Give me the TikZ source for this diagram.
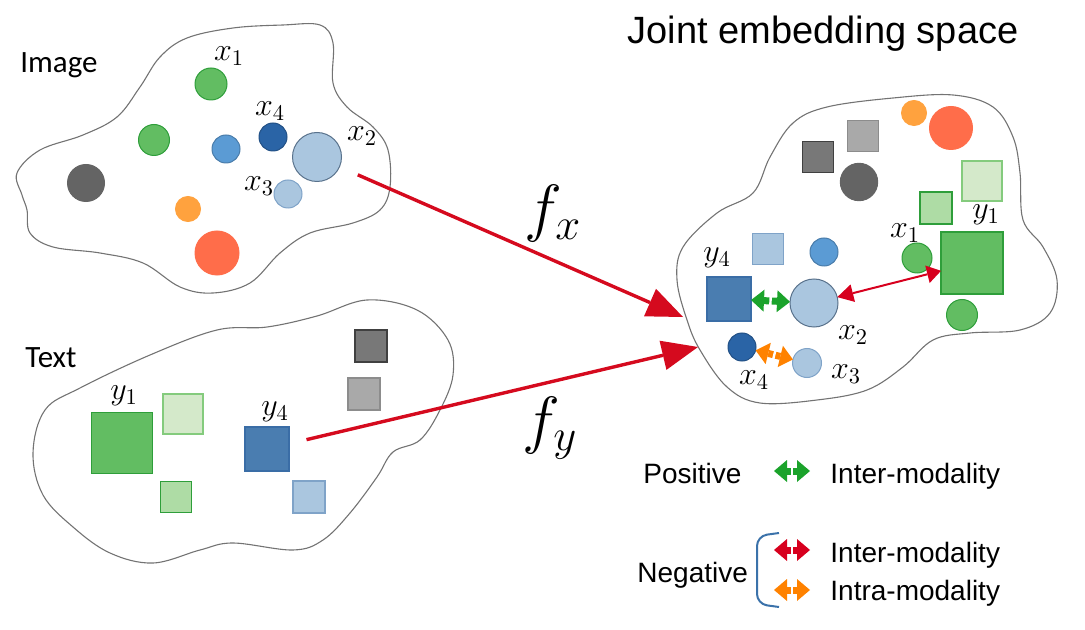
\RequirePackage{fix-cm}
\documentclass[tikz,border=0pt]{standalone}
\usepackage[no-math]{fontspec}
\setmainfont{Liberation Sans}
\newfontfamily\calfont{Carlito}
\usetikzlibrary{arrows.meta}

\definecolor{gfill}{HTML}{62BD62}
\definecolor{gline}{HTML}{2E9E3A}
\definecolor{pgfill}{HTML}{D4E9CA}
\definecolor{pgline}{HTML}{84CB7D}
\definecolor{mgfill}{HTML}{AEDCA5}
\definecolor{bsq}{HTML}{4A7DB0}
\definecolor{bsqline}{HTML}{3A6DA6}
\definecolor{dblue}{HTML}{2A64A6}
\definecolor{mblue}{HTML}{5B9BD4}
\definecolor{lblue}{HTML}{AAC6DF}
\definecolor{lbline}{HTML}{7FA3C8}
\definecolor{dgray}{HTML}{646464}
\definecolor{sqdark}{HTML}{787878}
\definecolor{sqmid}{HTML}{A9A9A9}
\definecolor{orng}{HTML}{FFA23E}
\definecolor{orred}{HTML}{FF6D4A}
\definecolor{mapred}{HTML}{D50A1E}
\definecolor{posgreen}{HTML}{1BA32B}
\definecolor{negred}{HTML}{D7001E}
\definecolor{negorange}{HTML}{FF8200}
\definecolor{brblue}{HTML}{3B72AA}

\begin{document}
\begin{tikzpicture}[x=0.5pt,y=-0.5pt,
  blob/.style={draw=black!55, line width=0.55pt},
  dot/.style={circle, inner sep=0pt, outer sep=0pt, line width=0.5pt, minimum size=#1},
  box/.style={rectangle, inner sep=0pt, outer sep=0pt, line width=0.7pt, minimum size=#1},
  gdot/.style={dot=#1, fill=gfill, draw=gline},
  bigbox/.style={box=#1, fill=gfill, draw=gline},
  paleg/.style={box=#1, fill=pgfill, draw=pgline},
  midg/.style={box=#1, fill=mgfill, draw=gline},
  bluebox/.style={box=#1, fill=bsq, draw=bsqline},
  lbbox/.style={box=#1, fill=lblue, draw=lbline},
  lbdot/.style={dot=#1, fill=lblue, draw=lbline},
  lab/.style={inner sep=0pt, font=\fontsize{16}{18}\selectfont},
  txt/.style={inner sep=0pt, font=\fontsize{14}{17}\selectfont},
  mapto/.style={draw=mapred, line width=1.7pt, -{Triangle[length=18pt,width=15pt,line width=0pt]}},
  pair/.style={draw=#1, line width=3.5pt,
    {Triangle[length=6.5pt,width=11pt,line width=0pt]}-{Triangle[length=6.5pt,width=11pt,line width=0pt]}},
  negpair/.style={draw=negred, line width=1pt,
    {Triangle[length=8pt,width=9pt,line width=0pt]}-{Triangle[length=7pt,width=9pt,line width=0pt]}},
  gapcut/.style={fill=white, inner sep=0pt, minimum width=1.2pt, minimum height=12pt, sloped},
]
\useasboundingbox (0,0) rectangle (1085,630);

% three spaces
\draw[blob] plot[smooth cycle, tension=0.6] coordinates {(17,173) (40,150) (83,135) (117,117) (140,87) (160,57) (187,38) (233,28) (283,25) (320,25) (333,43) (333,83) (347,107) (373,127) (388,150) (390,187) (380,210) (353,223) (310,233) (280,253) (250,283) (213,293) (180,287) (143,263) (100,253) (53,247) (30,233) (27,210) (22,195)};
\draw[blob] plot[smooth cycle, tension=0.6] coordinates {(33,453) (45,410) (80,388) (150,355) (217,330) (267,327) (317,316) (367,300) (417,310) (448,340) (453,375) (440,410) (420,440) (393,452) (377,477) (350,513) (323,540) (293,550) (233,543) (200,550) (153,563) (110,553) (73,527) (43,495)};
\draw[blob] plot[smooth cycle, tension=0.6] coordinates {(683,247) (717,213) (753,193) (770,157) (793,123) (827,107) (893,98) (953,95) (993,107) (1013,137) (1020,173) (1023,220) (1043,247) (1057,280) (1050,313) (1020,330) (970,333) (933,340) (903,367) (867,390) (817,400) (760,403) (727,387) (700,350) (687,320) (677,280)};

\node[anchor=base west, inner sep=0pt, font=\calfont\fontsize{15.5}{18}\selectfont] (limg) at (20,73) {Image};
\node[anchor=base west, inner sep=0pt, font=\calfont\fontsize{15.5}{18}\selectfont] (ltxt) at (25,367) {Text};
\node[anchor=base, inner sep=0pt, font=\fontsize{19}{22}\selectfont] (ljoint) at (823,44) {Joint embedding space};

% image space
\node[gdot=16pt] (ix1) at (211,84) {};
\node[gdot=15.5pt] (ig) at (154,140) {};
\node[dot=14pt, fill=mblue, draw=mblue!80!black] (ib) at (226,149) {};
\node[dot=14pt, fill=dblue, draw=dblue!80!black] (ix4) at (273,137) {};
\node[lbdot=24.5pt, draw=lbline!70!black] (ix2) at (317,157) {};
\node[lbdot=14pt] (ix3) at (288,194) {};
\node[dot=18.5pt, fill=dgray, draw=dgray] (ik) at (86,183) {};
\node[dot=12.5pt, fill=orng, draw=orng] (io) at (188,209) {};
\node[dot=22pt, fill=orred, draw=orred] (ir) at (217,253) {};
\node[lab] at (229,56) {$x_1$};
\node[lab] at (270,111) {$x_4$};
\node[lab] at (362,136) {$x_2$};
\node[lab] at (259,186) {$x_3$};

% text space
\node[bigbox=30.5pt] (ty1) at (122,443) {};
\node[paleg=20pt] (tpg) at (183,414) {};
\node[midg=15.5pt] (tmg) at (176,497) {};
\node[bluebox=22pt] (ty4) at (267,449) {};
\node[lbbox=16pt] (tlb) at (309,497) {};
\node[box=16pt, fill=sqdark, draw=black!75] (tdk) at (371,346) {};
\node[box=16pt, fill=sqmid, draw=black!45] (tmk) at (364,394) {};
\node[lab] at (124,396) {$y_1$};
\node[lab] at (275,412) {$y_4$};

% joint space
\node[dot=12.5pt, fill=orng, draw=orng] (ro) at (914,113) {};
\node[dot=21.5pt, fill=orred, draw=orred] (rr) at (951,128) {};
\node[box=15.5pt, fill=sqdark, draw=black!75] (rdk) at (818,157) {};
\node[box=15.5pt, fill=sqmid, draw=black!45] (rmk) at (863,136) {};
\node[dot=18.7pt, fill=dgray, draw=dgray] (rk) at (859,182) {};
\node[paleg=20pt] (rpg) at (982,181) {};
\node[midg=16pt] (rmg) at (936,208) {};
\node[bigbox=31pt] (ry1) at (972,263) {};
\node[gdot=15pt] (rx1) at (917,258) {};
\node[gdot=15.5pt] (rg) at (962,315) {};
\node[lbbox=15.5pt] (rlb) at (768,249) {};
\node[dot=14pt, fill=mblue, draw=mblue!80!black] (rb) at (824,252) {};
\node[bluebox=22pt] (ry4) at (729,299) {};
\node[lbdot=24pt, draw=lbline!70!black] (rx2) at (814,303) {};
\node[dot=14pt, fill=dblue, draw=dblue!80!black] (rx4) at (742,347) {};
\node[lbdot=14.5pt] (rx3) at (807,363) {};
\node[lab] at (986,215) {$y_1$};
\node[lab] at (905,233) {$x_1$};
\node[lab] at (717,258) {$y_4$};
\node[lab] at (853,335) {$x_2$};
\node[lab] at (754,380) {$x_4$};
\node[lab] at (846,374) {$x_3$};

\draw[pair=posgreen] (ry4) -- node[gapcut]{} (rx2);
\draw[pair=negorange] (rx4) -- node[gapcut]{} (rx3);
\draw[negpair] (rx2) -- (ry1);

% mappings
\coordinate (fxtip) at (683,317);
\coordinate (fytip) at (698,347);
\draw[mapto, shorten <=10pt] (ix2) -- (fxtip);
\draw[mapto, shorten <=9pt] (ty4) -- (fytip);
\node[inner sep=0pt, font=\fontsize{32}{36}\selectfont] (lfx) at (553,214) {$f_x$};
\node[inner sep=0pt, font=\fontsize{32}{36}\selectfont] (lfy) at (550,428) {$f_y$};

% legend
\coordinate (pa) at (774,471);
\coordinate (pb) at (810,471);
\coordinate (na) at (774,550);
\coordinate (nb) at (810,550);
\coordinate (oa) at (774,590);
\coordinate (ob) at (810,590);
\draw[pair=posgreen] (pa) -- node[gapcut]{} (pb);
\draw[pair=negred] (na) -- node[gapcut]{} (nb);
\draw[pair=negorange] (oa) -- node[gapcut]{} (ob);
\node[txt, anchor=base west] (lpos) at (643,483) {Positive};
\node[txt, anchor=base west] (lneg) at (637,582) {Negative};
\node[txt, anchor=base west] (lpi) at (830,483) {Inter-modality};
\node[txt, anchor=base west] (lni) at (830,562) {Inter-modality};
\node[txt, anchor=base west] (lno) at (830,600) {Intra-modality};
\draw[brblue, line width=1pt, rounded corners=5pt] (779,533) -- (757,536) -- (757,604) -- (779,607);
\end{tikzpicture}
\end{document}
